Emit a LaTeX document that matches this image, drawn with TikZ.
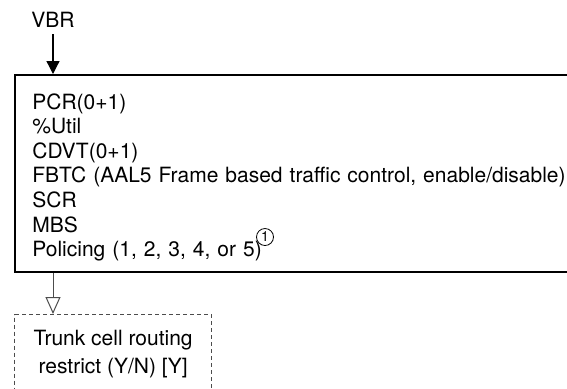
\documentclass[tikz,border=0pt]{standalone}
\usepackage{fontspec}
\setmainfont{TeX Gyre Heros}
\usetikzlibrary{arrows.meta}

\begin{document}
\begin{tikzpicture}[x=0.5pt, y=-0.5pt,
    txt/.style={font=\fontsize{10.5}{12.33}\selectfont},
    panel/.style={draw, line width=0.8pt, anchor=north west, inner sep=0pt},
    optbox/.style={draw=black!70, dash pattern=on 2pt off 1.5pt, line width=0.6pt,
      anchor=north west, inner sep=0pt, align=center, font=\fontsize{10.5}{14}\selectfont}]
  \path[use as bounding box, clip] (0,0) rectangle (567,388);

  \node[txt, anchor=base] (vbr) at (53,27) {VBR};
  \node[panel, minimum width=300pt, minimum height=98.5pt] (vbrbox) at (14,74) {};
  \node[txt, anchor=base west, text width=280pt, inner sep=0pt] (params) at (32,109) {PCR(0+1)\\
    \%Util\\
    CDVT(0+1)\\
    FBTC (AAL5 Frame based traffic control, enable/disable)\\
    SCR\\
    MBS\\
    Policing (1, 2, 3, 4, or 5)};
  \node[circle, draw, line width=0.4pt, inner sep=0pt, minimum size=8.5pt,
    font=\fontsize{7}{8}\selectfont] (note) at (265,237) {1};
  \node[optbox, minimum width=98.5pt, minimum height=39.5pt] (trunk) at (14,314) {Trunk cell routing\\restrict (Y/N) [Y]};

  \draw[line width=0.6pt, -{Triangle[length=6.5pt,width=6.5pt]}] (vbr) -- (vbrbox.north -| vbr);
  \draw[black!70, line width=0.5pt, -{Triangle[open,length=8.5pt,width=7.5pt]}] (vbrbox.south -| vbr) -- (trunk.north -| vbr);
\end{tikzpicture}
\end{document}
